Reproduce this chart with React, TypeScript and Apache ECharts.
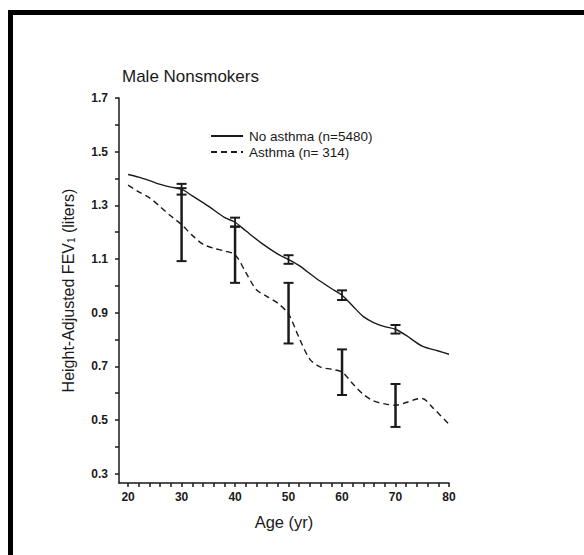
import React, { useEffect, useRef } from "react";
import * as echarts from "echarts";

// Height-adjusted FEV1 by age, male nonsmokers
const noAsthmaAges = [20, 22, 24, 26, 28, 30, 32, 35, 38, 40, 42, 45, 48, 50, 52, 55, 58, 60, 62, 64, 66, 68, 70, 72, 75, 78, 80];
const noAsthmaFev = [1.415, 1.405, 1.392, 1.378, 1.368, 1.36, 1.335, 1.297, 1.255, 1.237, 1.205, 1.158, 1.118, 1.098, 1.075, 1.03, 0.99, 0.965, 0.925, 0.885, 0.862, 0.848, 0.838, 0.815, 0.775, 0.757, 0.745];

const asthmaAges = [20, 22, 24, 26, 28, 30, 32, 34, 36, 38, 40, 42, 44, 46, 48, 50, 52, 54, 56, 58, 60, 62, 64, 66, 68, 70, 72, 74, 75, 77, 80];
const asthmaFev = [1.375, 1.35, 1.328, 1.295, 1.26, 1.228, 1.188, 1.155, 1.14, 1.13, 1.116, 1.05, 0.985, 0.96, 0.935, 0.895, 0.805, 0.726, 0.697, 0.689, 0.679, 0.635, 0.595, 0.57, 0.56, 0.555, 0.565, 0.578, 0.58, 0.545, 0.484];

// Error bars at decade ages (centre, half-width)
const barAges = [30, 40, 50, 60, 70];
const noAsthmaBarMean = [1.36, 1.237, 1.098, 0.965, 0.838];
const noAsthmaBarErr = [0.02, 0.017, 0.016, 0.018, 0.016];
const asthmaBarMean = [1.228, 1.116, 0.898, 0.678, 0.554];
const asthmaBarErr = [0.136, 0.105, 0.113, 0.085, 0.08];

// Axis ticks and labels
const xTickValues = [20, 22, 24, 26, 28, 30, 32, 34, 36, 38, 40, 42, 44, 46, 48, 50, 52, 54, 56, 58, 60, 62, 64, 66, 68, 70, 72, 74, 76, 78, 80];
const xLabelValues = [20, 30, 40, 50, 60, 70, 80];
const yTickValues = [0.3, 0.4, 0.5, 0.6, 0.7, 0.8, 0.9, 1.0, 1.1, 1.2, 1.3, 1.4, 1.5, 1.6, 1.7];
const yLabelValues = [0.3, 0.5, 0.7, 0.9, 1.1, 1.3, 1.5, 1.7];

const legendNames = ["No asthma (n=5480)", "Asthma (n= 314)"];

const INK = "#1a1a1a";
const FONT = "'Liberation Sans', Arial, Helvetica, sans-serif";

function errorBarSeries(name: string, means: number[], errs: number[], stemWidth: number) {
  const data = barAges.map((a, i) => [a, means[i] - errs[i], means[i] + errs[i]]);
  return {
    type: "custom",
    name,
    silent: true,
    z: 5,
    data,
    renderItem: (params: any, api: any) => {
      const x = api.value(0);
      const lo = api.coord([x, api.value(1)]);
      const hi = api.coord([x, api.value(2)]);
      const half = 5;
      const style = { stroke: INK, lineWidth: stemWidth };
      const capStyle = { stroke: INK, lineWidth: 2 };
      return {
        type: "group",
        children: [
          { type: "line", shape: { x1: lo[0], y1: lo[1], x2: hi[0], y2: hi[1] }, style },
          { type: "line", shape: { x1: lo[0] - half, y1: lo[1], x2: lo[0] + half, y2: lo[1] }, style: capStyle },
          { type: "line", shape: { x1: hi[0] - half, y1: hi[1], x2: hi[0] + half, y2: hi[1] }, style: capStyle },
        ],
      };
    },
  };
}

export default function App() {
  const ref = useRef<HTMLDivElement>(null);

  useEffect(() => {
    if (!ref.current) return;
    const chart = echarts.init(ref.current, null, { renderer: "svg" });

    const option: any = {
      animation: false,
      backgroundColor: "#ffffff",
      title: {
        text: "Male Nonsmokers",
        left: 117,
        top: 63,
        textStyle: { fontFamily: FONT, fontSize: 17, fontWeight: "normal", color: INK },
      },
      legend: {
        data: legendNames,
        orient: "vertical",
        left: 210,
        top: 129,
        padding: 0,
        itemWidth: 32,
        itemHeight: 12,
        itemGap: 2,
        itemStyle: { opacity: 0 },
        textStyle: { fontFamily: FONT, fontSize: 13.5, color: INK, lineHeight: 12, padding: [0, 0, 0, 1] },
        selectedMode: false,
      },
      grid: { left: 119, right: 135, top: 98, bottom: 72, containLabel: false },
      xAxis: {
        type: "value",
        min: 18.3,
        max: 80,
        name: "Age (yr)",
        nameLocation: "middle",
        nameGap: 30,
        nameTextStyle: { fontFamily: FONT, fontSize: 16.5, color: INK },
        axisLine: { show: true, lineStyle: { color: INK, width: 1.5 } },
        axisTick: { show: true, customValues: xTickValues, length: 4, lineStyle: { color: INK, width: 1.5 } },
        axisLabel: {
          customValues: xLabelValues,
          margin: 8,
          fontFamily: FONT,
          fontSize: 12,
          fontWeight: "bold",
          color: INK,
        },
        splitLine: { show: false },
      },
      yAxis: {
        type: "value",
        min: 0.265,
        max: 1.7,
        name: "{n|Height-Adjusted FEV}{s|1}{n| (liters)}",
        nameLocation: "middle",
        nameGap: 43,
        nameRotate: 90,
        nameTextStyle: {
          fontFamily: FONT,
          color: INK,
          rich: {
            n: { fontFamily: FONT, fontSize: 16, color: INK },
            s: { fontFamily: FONT, fontSize: 10, color: INK, verticalAlign: "bottom" },
          },
        },
        axisLine: { show: true, lineStyle: { color: INK, width: 1.5 } },
        axisTick: { show: true, customValues: yTickValues, length: 4, lineStyle: { color: INK, width: 1.5 } },
        axisLabel: {
          customValues: yLabelValues,
          margin: 11,
          fontFamily: FONT,
          fontSize: 12,
          fontWeight: "bold",
          color: INK,
          formatter: (v: number) => v.toFixed(1),
        },
        splitLine: { show: false },
      },
      series: [
        {
          type: "line",
          name: legendNames[0],
          data: noAsthmaAges.map((a, i) => [a, noAsthmaFev[i]]),
          symbol: "none",
          smooth: 0.3,
          lineStyle: { color: INK, width: 1.4, type: "solid" },
          itemStyle: { color: INK },
          z: 3,
        },
        {
          type: "line",
          name: legendNames[1],
          data: asthmaAges.map((a, i) => [a, asthmaFev[i]]),
          symbol: "none",
          smooth: 0.3,
          lineStyle: { color: INK, width: 1.4, type: [6, 4] },
          itemStyle: { color: INK },
          z: 3,
        },
        errorBarSeries("noAsthmaErr", noAsthmaBarMean, noAsthmaBarErr, 1.8),
        errorBarSeries("asthmaErr", asthmaBarMean, asthmaBarErr, 2.5),
      ],
      graphic: [
        { type: "rect", shape: { x: 8, y: 10, width: 5, height: 545 }, style: { fill: "#000" } },
        { type: "rect", shape: { x: 8, y: 10, width: 576, height: 5 }, style: { fill: "#000" } },
      ],
    };

    chart.setOption(option);
    return () => chart.dispose();
  }, []);

  return (
    <div
      ref={ref}
      style={{ position: "fixed", left: 0, top: 0, width: 584, height: 555, background: "#fff" }}
    />
  );
}
